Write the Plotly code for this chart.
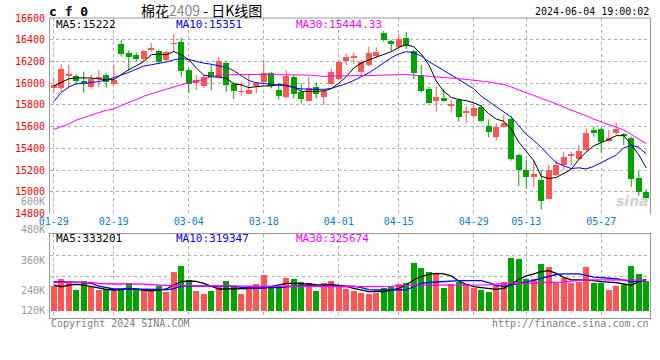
import plotly.graph_objects as go

W, H = 660, 360

# ---------------- data ----------------
date_index = [0, 8, 18, 28, 38, 46, 56, 63, 73]
date_labels = ["01-29", "02-19", "03-04", "03-18", "04-01", "04-15", "04-29", "05-13", "05-27"]

opens = [15960, 15960, 16068, 16065, 16025, 15965, 16040, 16080, 15990, 16360,
         16275, 16260, 16222, 16310, 16295, 16215, 16360, 16380, 16120, 16000,
         15975, 16105, 16060, 16190, 15990, 15915, 15905, 15970, 16010, 16090,
         15938, 15876, 16054, 15922, 15837, 15968, 15876, 15990, 16039, 16207,
         16232, 16100, 16165, 16255, 16462, 16390, 16333, 16415, 16293, 16076,
         15948, 15840, 15862, 15790, 15846, 15729, 15698, 15778, 15607, 15508,
         15601, 15668, 15340, 15202, 15137, 15110, 14935, 15156, 15248, 15330,
         15300, 15386, 15570, 15576, 15472, 15539, 15533, 15493, 15125, 15002]
highs = [16050, 16175, 16168, 16085, 16106, 16080, 16120, 16095, 16170, 16400,
         16300, 16285, 16306, 16370, 16310, 16300, 16455, 16415, 16135, 16076,
         16075, 16174, 16244, 16204, 16008, 16008, 16076, 16010, 16215, 16106,
         16000, 16122, 16076, 15999, 16060, 16008, 15938, 16137, 16210, 16275,
         16280, 16214, 16336, 16330, 16482, 16398, 16453, 16474, 16303, 16168,
         15968, 15965, 15950, 15846, 15861, 15790, 15815, 15800, 15668, 15631,
         15708, 15699, 15349, 15294, 15294, 15202, 15248, 15300, 15370, 15370,
         15432, 15585, 15600, 15594, 15570, 15637, 15545, 15508, 15196, 15024]
lows = [15915, 15920, 15950, 15985, 15913, 15950, 15965, 15960, 15985, 16245,
        16110, 16200, 16198, 16290, 16175, 16200, 16285, 16060, 15910, 15940,
        15955, 15938, 16045, 15922, 15855, 15886, 15898, 15905, 16000, 15953,
        15850, 15861, 15861, 15815, 15837, 15861, 15800, 15985, 16030, 16165,
        16172, 16076, 16155, 16235, 16382, 16290, 16315, 16315, 16038, 15915,
        15812, 15738, 15830, 15730, 15647, 15631, 15677, 15646, 15502, 15472,
        15594, 15288, 15055, 15033, 15049, 14840, 14932, 15147, 15202, 15248,
        15294, 15370, 15508, 15361, 15462, 15524, 15432, 15049, 14962, 14880]
closes = [15985, 16130, 16082, 16025, 16005, 16035, 16055, 16010, 16030, 16265,
          16240, 16225, 16296, 16325, 16195, 16285, 16372, 16110, 15990, 16030,
          16060, 16055, 16205, 15985, 15932, 15928, 15938, 16005, 16090, 15975,
          15882, 16066, 15898, 15852, 15959, 15898, 15929, 16100, 16198, 16238,
          16246, 16198, 16275, 16290, 16398, 16361, 16404, 16345, 16097, 15929,
          15821, 15876, 15840, 15809, 15692, 15745, 15769, 15656, 15554, 15601,
          15637, 15300, 15202, 15134, 15165, 14917, 15202, 15248, 15325, 15346,
          15376, 15539, 15539, 15462, 15499, 15576, 15515, 15116, 15002, 14941]

ma5 = [15975, 16005, 16040, 16050, 16050, 16048, 16040, 16032, 16033, 16080,
       16125, 16160, 16200, 16262, 16268, 16262, 16292, 16262, 16218, 16140,
       16075, 16060, 16056, 16045, 15995, 15985, 15960, 15968, 15975, 15975,
       15988, 15982, 15965, 15925, 15922, 15925, 15930, 15950, 16000, 16060,
       16140, 16185, 16215, 16240, 16265, 16290, 16330, 16355, 16335, 16270,
       16170, 16020, 15925, 15870, 15850, 15840, 15820, 15790, 15720, 15670,
       15650, 15580, 15459, 15375, 15288, 15144, 15124, 15133, 15171, 15208,
       15299, 15367, 15425, 15452, 15483, 15518, 15518, 15434, 15342, 15222]
ma10 = [15830, 15915, 15965, 15995, 15998, 16005, 16015, 16030, 16050, 16075,
        16100, 16130, 16158, 16170, 16180, 16195, 16215, 16228, 16218, 16200,
        16185, 16175, 16163, 16145, 16115, 16070, 16025, 16005, 15998, 15985,
        15978, 15975, 15960, 15948, 15945, 15944, 15944, 15952, 15970, 15995,
        16025, 16060, 16095, 16140, 16185, 16235, 16270, 16290, 16280, 16250,
        16200, 16160, 16120, 16075, 16035, 15990, 15950, 15880, 15830, 15780,
        15730, 15688, 15610, 15530, 15475, 15410, 15335, 15270, 15240, 15215,
        15222, 15212, 15235, 15270, 15300, 15340, 15405, 15430, 15410, 15351]
ma30 = [15575, 15600, 15625, 15660, 15685, 15705, 15730, 15750, 15765, 15795,
        15820, 15850, 15880, 15905, 15925, 15945, 15965, 15990, 16005, 16020,
        16035, 16060, 16075, 16078, 16080, 16080, 16080, 16080, 16080, 16080,
        16080, 16078, 16076, 16076, 16075, 16070, 16062, 16066, 16066, 16068,
        16068, 16068, 16070, 16072, 16075, 16078, 16080, 16080, 16075, 16070,
        16068, 16062, 16056, 16048, 16042, 16035, 16028, 16020, 16012, 16000,
        15988, 15965, 15940, 15915, 15890, 15860, 15840, 15810, 15780, 15755,
        15730, 15700, 15670, 15645, 15625, 15600, 15570, 15530, 15490, 15444.33]

volume_k = [266, 337, 309, 220, 316, 255, 220, 231, 231, 231,
            298, 238, 227, 220, 263, 202, 415, 479, 327, 213,
            178, 213, 255, 316, 255, 178, 263, 280, 380, 263,
            263, 351, 337, 309, 291, 213, 298, 316, 263, 231,
            213, 192, 178, 185, 245, 255, 284, 298, 511, 458,
            415, 387, 245, 280, 309, 280, 245, 220, 202, 273,
            309, 564, 550, 337, 337, 500, 465, 309, 351, 291,
            309, 465, 298, 298, 220, 263, 273, 475, 394, 316]
vol_ma5_k = [273, 255, 273, 281, 273, 255, 238, 227, 220, 227,
             231, 227, 220, 210, 220, 231, 273, 309, 316, 312,
             291, 263, 231, 231, 231, 234, 238, 238, 241, 255,
             273, 291, 291, 291, 284, 277, 273, 281, 270, 259,
             238, 220, 202, 202, 202, 220, 238, 273, 327, 362,
             387, 398, 391, 370, 316, 281, 255, 245, 234, 227,
             238, 281, 334, 370, 391, 415, 426, 398, 355, 327,
             327, 327, 320, 309, 305, 298, 284, 270, 309, 333.201]
vol_ma10_k = [309, 309, 309, 305, 298, 291, 262, 245, 231, 231,
              231, 231, 231, 229, 226, 222, 235, 262, 266, 264,
              263, 263, 263, 263, 258, 248, 240, 240, 245, 245,
              247, 255, 262, 263, 263, 263, 263, 266, 266, 266,
              262, 245, 225, 220, 220, 220, 220, 222, 255, 291,
              300, 305, 312, 319, 319, 319, 319, 319, 300, 270,
              258, 270, 290, 305, 325, 345, 370, 385, 391, 391,
              391, 375, 358, 352, 347, 340, 325, 309, 312, 319.347]
vol_ma30_k = [302, 302, 302, 302, 302, 300, 290, 284, 284, 284,
              284, 284, 282, 276, 270, 266, 266, 266, 266, 266,
              266, 266, 266, 266, 266, 266, 266, 266, 266, 266,
              266, 266, 266, 266, 266, 266, 264, 258, 255, 255,
              255, 255, 255, 255, 255, 258, 266, 272, 273, 273,
              273, 273, 273, 273, 273, 273, 273, 273, 275, 282,
              289, 291, 291, 291, 294, 300, 302, 302, 304, 315,
              323, 326, 327, 327, 327, 327, 327, 327, 327, 325.674]

price_ticks = [14800, 15000, 15200, 15400, 15600, 15800, 16000, 16200, 16400, 16600]
vol_axis_labels = ["600K", "480K", "360K", "240K", "120K"]

title_name = "棉花"
title_code = "2409"
title_rest = " - 日K线图"
symbol_text = "c f 0"
timestamp_text = "2024-06-04 19:00:02"
price_ma_text = ["MA5:15222", "MA10:15351", "MA30:15444.33"]
vol_ma_text = ["MA5:333201", "MA10:319347", "MA30:325674"]
copyright_text = "Copyright 2024 SINA.COM"
url_text = "http://finance.sina.com.cn"

# ---------------- styling ----------------
RED = "#ff5555"
GREEN = "#00a400"
MA_COLORS = ["#000000", "#0000ff", "#ff00ff"]
GRID = "#b0b0b0"
BORDER = "#999999"
MONO = "DejaVu Sans Mono"

def px_x(p):
    return p / W

def px_y(p):
    return 1 - p / H

n = len(closes)
idx = list(range(n))
colors = [RED if c >= o else GREEN for o, c in zip(opens, closes)]

fig = go.Figure()

# wicks
for col in (RED, GREEN):
    xs, ys = [], []
    for i in idx:
        if colors[i] == col:
            xs += [i, i, None]
            ys += [lows[i], highs[i], None]
    fig.add_trace(go.Scatter(x=xs, y=ys, mode="lines", line=dict(color=col, width=1),
                             xaxis="x", yaxis="y", hoverinfo="skip"))

# bodies
fig.add_trace(go.Bar(x=idx, base=[min(o, c) for o, c in zip(opens, closes)],
                     y=[max(abs(c - o), 6) for o, c in zip(opens, closes)],
                     width=0.8, marker=dict(color=colors, line=dict(width=0)),
                     xaxis="x", yaxis="y"))

for series, col in zip((ma5, ma10, ma30), MA_COLORS):
    fig.add_trace(go.Scatter(x=idx, y=series, mode="lines", line=dict(color=col, width=1),
                             xaxis="x", yaxis="y"))

# volume
fig.add_trace(go.Bar(x=idx, y=[v * 1000 for v in volume_k], width=0.8,
                     marker=dict(color=colors, line=dict(width=0)),
                     xaxis="x2", yaxis="y2"))
for series, col in zip((vol_ma5_k, vol_ma10_k, vol_ma30_k), MA_COLORS):
    fig.add_trace(go.Scatter(x=idx, y=[v * 1000 for v in series], mode="lines",
                             line=dict(color=col, width=1.3), xaxis="x2", yaxis="y2"))

x_dom = [px_x(50), px_x(650)]
main_dom = [px_y(213.7), px_y(18)]
vol_dom = [px_y(318.3), px_y(234)]

# volume scale: 0 at pixel 310.7, 0.094 px per thousand
k = 0.094 / 1000.0
vol_range = [-(318.3 - 310.7) / k, (310.7 - 234) / k]
vol_grid = [(310.7 - p) / k for p in (255, 276, 297)]

common_grid = dict(showgrid=True, gridcolor=GRID, griddash="dot", gridwidth=1,
                   zeroline=False, ticks="", automargin=False)

fig.update_layout(
    width=W, height=H, autosize=False,
    margin=dict(l=0, r=0, t=0, b=0, pad=0),
    paper_bgcolor="white", plot_bgcolor="white",
    showlegend=False, barmode="overlay", bargap=0,
    xaxis=dict(domain=x_dom, anchor="y", range=[-0.5, n - 0.5],
               tickmode="array", tickvals=date_index, ticktext=date_labels,
               tickfont=dict(family=MONO, size=10, color="#0a7fd0"),
               showline=False, **common_grid),
    yaxis=dict(domain=main_dom, anchor="x", range=[14800, 16600],
               tickmode="array", tickvals=price_ticks,
               ticktext=[str(t) for t in price_ticks],
               tickfont=dict(family=MONO, size=10, color="#ff0000"),
               showline=True, linecolor=BORDER, linewidth=1,
               mirror=True, ticklabelstandoff=2, **common_grid),
    xaxis2=dict(domain=x_dom, anchor="y2", matches="x", range=[-0.5, n - 0.5],
                tickmode="array", tickvals=date_index, showticklabels=False,
                showline=True, linecolor=BORDER, mirror=True, **common_grid),
    yaxis2=dict(domain=vol_dom, anchor="x2", range=vol_range,
                tickmode="array", tickvals=vol_grid, showticklabels=False,
                showline=True, linecolor=BORDER, mirror=True, **common_grid),
)

# top border of the price panel
fig.add_shape(type="line", xref="paper", yref="paper", x0=x_dom[0], x1=x_dom[1],
              y0=main_dom[1], y1=main_dom[1], line=dict(color=BORDER, width=1))

ann = []
def add_text(text, x, y, color, size, anchor="left", family=MONO, bold=False, italic=False):
    if bold:
        text = "<b>" + text + "</b>"
    if italic:
        text = "<i>" + text + "</i>"
    ann.append(dict(text=text, x=px_x(x), y=px_y(y), xref="paper", yref="paper",
                    xanchor=anchor, yanchor="middle", showarrow=False,
                    font=dict(family=family, size=size, color=color)))

add_text(symbol_text, 47, 12, "#000000", 13, bold=True)
add_text(title_name + "<span style='color:#888888'>" + title_code + "</span>" + title_rest,
         139, 10, "#000000", 14, family="Noto Sans CJK SC")
add_text(timestamp_text, 651, 12, "#000000", 10, anchor="right")
for txt, col, x in zip(price_ma_text, MA_COLORS, (54, 174, 294)):
    add_text(txt, x, 24.5, col, 11)
for txt, col, x in zip(vol_ma_text, MA_COLORS, (54, 174, 294)):
    add_text(txt, x, 238.5, col, 11)
for txt, y in zip(vol_axis_labels, (201.5, 230, 260, 290, 310)):
    add_text(txt, 47, y, "#9a9a9a", 10, anchor="right")
add_text(copyright_text, 49, 323.5, "#808080", 10)
add_text(url_text, 651, 323.5, "#808080", 10, anchor="right")
add_text("sina", 632, 201, "#d2d2d2", 14, anchor="center", family="DejaVu Sans", bold=True, italic=True)

fig.update_layout(annotations=ann)
# remove the browser's default 8 px body margin so the figure sits at the page origin
fig.write_html("out.html", config={"displayModeBar": False, "staticPlot": True},
               post_script="document.body.style.margin='0px';document.body.style.padding='0px';")
